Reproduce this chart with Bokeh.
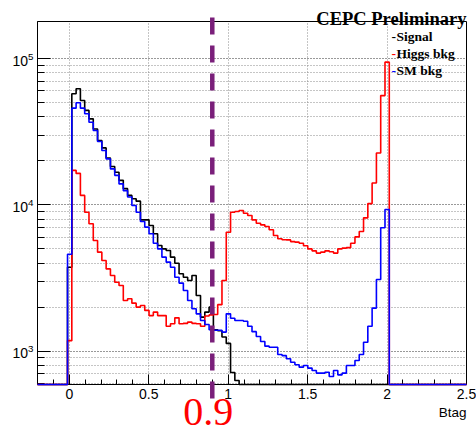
import numpy as np
from bokeh.plotting import figure
from bokeh.models import Range1d, FixedTicker
from bokeh.core.properties import value
from bokeh.embed import file_html
from bokeh.resources import INLINE

# ---------------- data (bin contents) ----------------
hist_min, hist_max, n_bins = -0.2, 2.5, 100

signal = [0, 0, 0, 0, 0, 0, 0,
          3750, 57400, 62100, 51600, 44200, 38700, 33000, 27500, 24500, 20900,
          18300, 16700, 14700, 12900, 11600, 11000, 10600, 7890, 7890, 7220,
          6340, 5280, 5000, 4870, 4390, 3990, 3380, 3200, 3040, 3290,
          2400, 1710, 1850, 2000, 1400, 1380, 1250, 1130, 715, 630,
          0, 0, 0, 0, 0, 0, 0, 0, 0, 0, 0, 0, 0, 0, 0, 0, 0, 0, 0, 0,
          0, 0, 0, 0, 0, 0, 0, 0, 0, 0, 0, 0, 0, 0, 0, 0, 0, 0, 0, 0,
          0, 0, 0, 0, 0, 0, 0, 0, 0, 0, 0, 0, 0]

higgs = [0, 0, 0, 0, 0, 0, 0,
         1180, 17200, 16400, 11600, 8910, 7420, 5710, 4750, 4170, 3650,
         3290, 2960, 2810, 2220, 2280, 2130, 2000, 2050, 1900, 1750,
         1850, 1750, 1750, 1480, 1540, 1690, 1540, 1550, 1580, 1550,
         1540, 1480, 1740, 1770, 1780, 2080, 3040, 6500, 8910, 9000,
         9150, 8770, 8460, 7890, 7490, 7300, 7110, 6750, 6170, 5860,
         5770, 5760, 5610, 5560, 5470, 5250, 5000, 4850, 4680, 4750,
         4850, 4780, 4680, 5000, 5060, 5100, 5470, 6040, 6580, 8150,
         10200, 14100, 22600, 55800, 94400,
         0, 0, 0, 0, 0, 0, 0, 0, 0, 0, 0, 0, 0, 0, 0, 0, 0, 0]

sm_bkg = [0, 0, 0, 0, 0, 0, 0,
          4600, 45800, 49800, 45800, 41900, 36700, 32200, 27100, 23500, 20600,
          17600, 15900, 13900, 12500, 11300, 9900, 8910, 7690, 7040, 6340,
          5470, 5000, 4390, 4060, 3750, 3200, 2920, 2600, 2220, 1950,
          1800, 1620, 1520, 1400, 1390, 1390, 1350, 1800, 1680, 1620,
          1620, 1600, 1480, 1360, 1260, 1165, 1082, 1065, 1065, 949,
          933, 887, 841, 807, 778, 798, 766, 738, 708, 708,
          718, 671, 738, 689, 708, 798, 798, 863, 949, 1150,
          1480, 1970, 3090, 6970, 9290,
          0, 0, 0, 0, 0, 0, 0, 0, 0, 0, 0, 0, 0, 0, 0, 0, 0, 0]

x_ticks = [0, 0.5, 1, 1.5, 2, 2.5]
x_tick_labels = ["0", "0.5", "1", "1.5", "2", "2.5"]
x_minor_ticks = [-0.2, -0.1, 0.0, 0.1, 0.2, 0.3, 0.4, 0.5, 0.6, 0.7, 0.8, 0.9,
                 1.0, 1.1, 1.2, 1.3, 1.4, 1.5, 1.6, 1.7, 1.8, 1.9, 2.0, 2.1,
                 2.2, 2.3, 2.4, 2.5]
series_names = ["Signal", "Higgs bkg", "SM bkg"]
series_colors = ["#000000", "#ff0000", "#0000ff"]
x_title = "Btag"
plot_label = "CEPC Preliminary"
cut = 0.9
y_lo, y_hi = 592, 1.79e5
cut_top, cut_bottom = 1.91e5, 475

# ---------------- figure ----------------
p = figure(width=476, height=428, title=None,
           x_range=Range1d(hist_min, hist_max), y_range=Range1d(y_lo, y_hi),
           y_axis_type="log", output_backend="svg", toolbar_location=None,
           min_border_left=37, min_border_right=10, min_border_top=21,
           min_border_bottom=44)
p.background_fill_color = "white"
p.border_fill_color = "white"
p.outline_line_color = "black"
p.outline_line_width = 1

# axes
p.xaxis.ticker = FixedTicker(ticks=x_ticks, minor_ticks=x_minor_ticks)
p.xgrid.ticker = FixedTicker(ticks=x_ticks)
p.xaxis.major_label_overrides = {t: l for t, l in zip(x_ticks, x_tick_labels)}

for ax in (p.xaxis, p.yaxis):
    ax.axis_line_color = "black"
    ax.major_tick_line_color = "black"
    ax.minor_tick_line_color = "black"
    ax.major_tick_out = 0
    ax.minor_tick_out = 0
    ax.major_label_text_font = "Liberation Sans"
    ax.major_label_text_font_size = "14px"
    ax.major_label_text_color = "black"
    ax.major_label_standoff = 4
p.xaxis.major_tick_in = 10
p.xaxis.minor_tick_in = 5
p.yaxis.major_tick_in = 13
p.yaxis.minor_tick_in = 7

grid_col = "#8a8a8a"
p.xgrid.grid_line_color = grid_col
p.xgrid.grid_line_dash = "1 2"
p.ygrid.grid_line_color = grid_col
p.ygrid.grid_line_dash = "1 2"
p.ygrid.minor_grid_line_color = grid_col
p.ygrid.minor_grid_line_dash = "1 2"

# histograms (drawn above the axes, as ROOT does for empty bins on the frame)
edges = np.linspace(hist_min, hist_max, n_bins + 1)
for vals, col in zip([signal, higgs, sm_bkg], series_colors):
    v = np.maximum(np.asarray(vals, dtype=float), y_lo)
    p.step(x=edges, y=np.append(v, v[-1]), mode="after",
           line_color=col, line_width=1.6, level="overlay")

# cut line (overlay level so that it may run past the frame like the original)
p.segment(x0=[cut], y0=[cut_top], x1=[cut], y1=[cut_bottom],
          line_color="#7a1f7a", line_width=4.5, line_dash="17 11", level="overlay")

# texts below the frame, anchored on the axes' own scales
p.text(x=[cut], y=[y_lo], text=[str(cut)], x_offset=-4, y_offset=27,
       text_font=value("Liberation Serif"), text_font_size="40px",
       text_color="#ff0000", text_align="center", text_baseline="alphabetic",
       level="overlay")
p.text(x=[hist_max], y=[y_lo], text=[x_title], y_offset=28,
       text_font=value("Liberation Sans"), text_font_size="13.5px",
       text_color="black", text_align="right", text_baseline="alphabetic",
       level="overlay")
# label at top-right corner
p.text(x=[hist_max], y=[y_hi], text=[plot_label], y_offset=-3,
       text_font=value("Liberation Serif"), text_font_style="bold",
       text_font_size="18.5px", text_color="black", text_align="right",
       text_baseline="alphabetic", level="overlay")
# legend entries
n = len(series_names)
p.text(x=[hist_max] * n, y=[y_hi] * n, text=["-"] * n,
       x_offset=[-75] * n, y_offset=[15 + 17 * i for i in range(n)],
       text_font=value("Liberation Serif"), text_font_style="bold",
       text_font_size="13.5px", text_color=series_colors, text_align="left",
       text_baseline="alphabetic", level="overlay")
p.text(x=[hist_max] * n, y=[y_hi] * n, text=series_names,
       x_offset=[-70] * n, y_offset=[15 + 17 * i for i in range(n)],
       text_font=value("Liberation Serif"), text_font_style="bold",
       text_font_size="13.5px", text_color="black", text_align="left",
       text_baseline="alphabetic", level="overlay")

open("out.html", "w").write(file_html(p, INLINE))
